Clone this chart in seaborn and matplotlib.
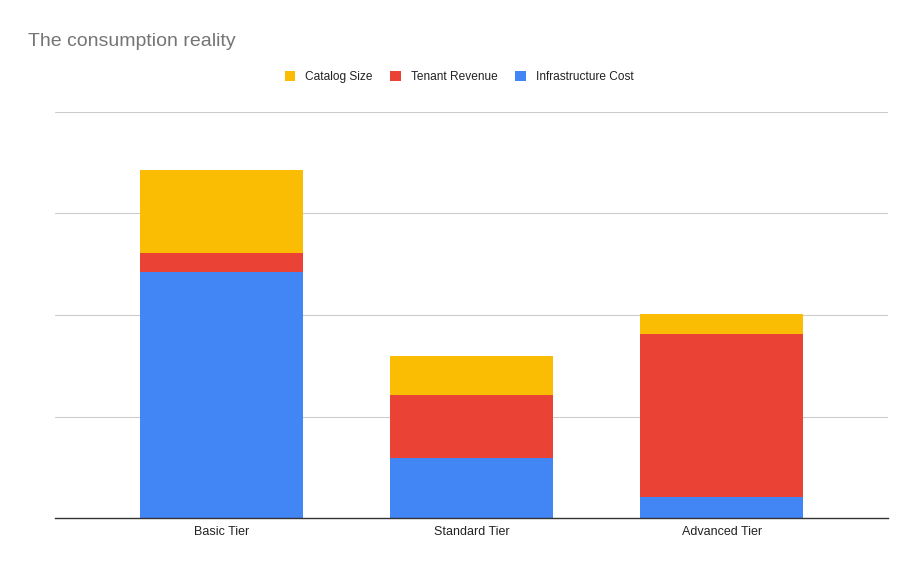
import numpy as np
import pandas as pd
import matplotlib
matplotlib.use("Agg")
import matplotlib.pyplot as plt
import seaborn as sns
from matplotlib.patches import Patch

# data (gridline step = 25)
tiers = ["Basic Tier", "Standard Tier", "Advanced Tier"]
infra_cost = [60.6, 14.8, 5.2]
tenant_revenue = [4.7, 15.4, 40.0]
catalog_size = [20.3, 9.8, 5.0]

series = ["Catalog Size", "Tenant Revenue", "Infrastructure Cost"]
colors = {"Catalog Size": "#FBBC04", "Tenant Revenue": "#EA4335", "Infrastructure Cost": "#4285F4"}

df = pd.DataFrame({"tier": tiers, "Infrastructure Cost": infra_cost,
                   "Tenant Revenue": tenant_revenue, "Catalog Size": catalog_size})
# cumulative tops, drawn tallest first so each layer sits on the one below
df["top_blue"] = df["Infrastructure Cost"]
df["top_red"] = df["top_blue"] + df["Tenant Revenue"]
df["top_yellow"] = df["top_red"] + df["Catalog Size"]

sns.set_style("white")
plt.rcParams["font.family"] = ["Liberation Sans", "DejaVu Sans"]

fig = plt.figure(figsize=(9.18, 5.67), dpi=100)
ax = fig.add_axes([55 / 918, 1 - 518 / 567, (888 - 55) / 918, (518 - 112) / 567])

for col, name in [("top_yellow", "Catalog Size"), ("top_red", "Tenant Revenue"), ("top_blue", "Infrastructure Cost")]:
    sns.barplot(data=df, x="tier", y=col, color=colors[name], width=0.65,
                saturation=1, linewidth=0, edgecolor="none", ax=ax, zorder=3)

ax.set_ylim(0, 100)
ax.set_xlim(-0.665, 2.665)
ax.set_yticks([25, 50, 75, 100])
ax.set_yticklabels([])
ax.tick_params(axis="y", length=0)
ax.tick_params(axis="x", length=0, labelsize=9, colors="#222222", pad=6)
ax.grid(axis="y", color="#cccccc", linewidth=0.8, zorder=0)
ax.set_xlabel("")
ax.set_ylabel("")
for s in ["top", "left", "right"]:
    ax.spines[s].set_visible(False)
ax.spines["bottom"].set_color("#333333")
ax.spines["bottom"].set_linewidth(1)
ax.spines["bottom"].set_zorder(4)

fig.text(28 / 918, 1 - 41 / 567, "The consumption reality", fontsize=14,
         color="#757575", va="center", ha="left")

handles = [Patch(facecolor=colors[n], edgecolor="none") for n in series]
fig.legend(handles, series, loc="center", bbox_to_anchor=(459 / 918, 1 - 77 / 567),
           ncol=3, frameon=False, fontsize=8.6, handlelength=0.9, handleheight=0.9,
           handletextpad=0.8, columnspacing=1.5, labelcolor="#222222")

fig.savefig("out.png", dpi=100)
